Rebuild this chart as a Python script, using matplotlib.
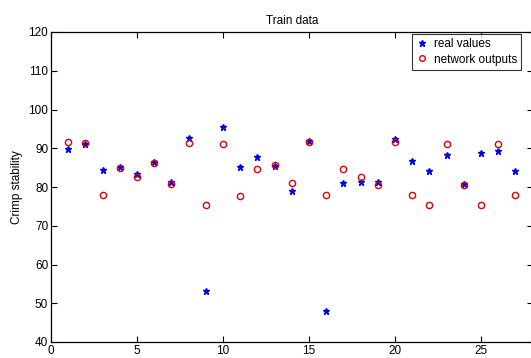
import numpy as np
import matplotlib
matplotlib.use("Agg")
from matplotlib import pyplot as plt

plt.rcParams['font.family'] = ['Liberation Sans', 'DejaVu Sans']

# training samples and their values
samples = np.arange(1, 28)
real_values = [89.7, 91.0, 84.4, 85.2, 83.3, 86.5, 81.4, 92.6, 53.2, 95.4,
               85.2, 87.8, 85.3, 79.0, 92.0, 48.0, 81.1, 81.4, 81.3, 92.5,
               86.8, 84.1, 88.3, 80.8, 88.7, 89.4, 84.2]
network_outputs = [91.7, 91.3, 77.9, 84.8, 82.5, 86.1, 80.8, 91.4, 75.4, 91.1,
                   77.7, 84.6, 85.8, 81.0, 91.7, 77.9, 84.6, 82.5, 80.5, 91.5,
                   77.9, 75.4, 91.1, 80.5, 75.4, 91.1, 77.9]

fig = plt.figure(figsize=(5.31, 3.58), dpi=100)
# right spine sits just past the image edge, as in the cropped original
ax = fig.add_axes([51/531, 1 - 342/358, 481.5/531, 310/358])

ax.plot(samples, real_values, '*', color='#0000ee', markersize=5,
        linestyle='none', label='real values')
ax.plot(samples, network_outputs, 'o', color='#dd0000', markersize=4.5,
        markerfacecolor='none', markeredgewidth=1.0, linestyle='none',
        label='network outputs')

ax.set_xlim(0, 28)
ax.set_ylim(40, 120)
ax.set_xticks([0, 5, 10, 15, 20, 25])
ax.set_yticks(np.arange(40, 121, 10))
ax.tick_params(direction='in', top=True, right=True, length=4,
               labelsize=8.5, pad=2)
for s in ax.spines.values():
    s.set_linewidth(0.9)

ax.set_title('Train data', fontsize=8.5, pad=6)
ax.set_ylabel('Crimp stability', fontsize=8.5, labelpad=4)

leg = ax.legend(loc='upper right', bbox_to_anchor=(0.977, 0.994),
                fontsize=8.5, frameon=True, fancybox=False,
                borderpad=0.35, handlelength=0.9, handletextpad=0.6,
                labelspacing=0.3, borderaxespad=0.0, markerscale=0.9)
leg.get_frame().set_edgecolor('black')
leg.get_frame().set_linewidth(0.8)

fig.savefig('out.png', dpi=100)
